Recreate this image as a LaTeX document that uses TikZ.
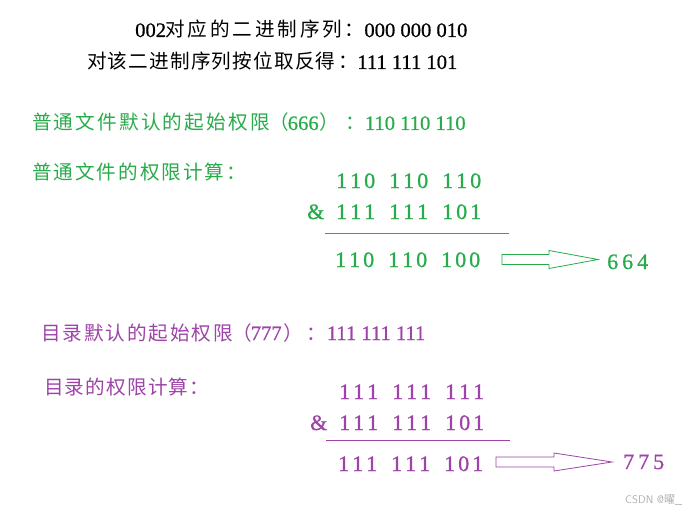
\documentclass[tikz,border=0pt]{standalone}
\usepackage{fontspec}
\setmainfont{Liberation Serif}
\newfontfamily\cjk{Noto Sans CJK SC}
\usetikzlibrary{calc}
\definecolor{fgreen}{RGB}{40,172,75}
\definecolor{dpurple}{RGB}{158,68,168}
\definecolor{wmgray}{RGB}{175,175,175}
\newcommand\fatarrow[4]{% start, tip, headbase x-offset from start, color
  \draw[#4, line width=0.8pt, line join=miter]
    ($(#1)+(0,-5)$) -- ($(#1)+(#3,-5)$) -- ($(#1)+(#3,-9)$) -- (#2)
    -- ($(#1)+(#3,9)$) -- ($(#1)+(#3,5)$) -- ($(#1)+(0,5)$) -- cycle;}
\newcommand\trip[3]{#1\kern3pt#2\kern3pt#3}
\newcommand\bits[3]{\trip#1\kern14pt\trip#2\kern14pt\trip#3}
% letter-spaced CJK run: \spc{<gap>}<chars>\relax
\newdimen\lsp
\def\spcloop#1{\ifx#1\relax\else#1\kern\lsp\expandafter\spcloop\fi}
\newcommand\spc[1]{\lsp=#1pt\relax\spcloop}
% font switches
\newcommand\zh{\cjk\fontsize{19.6}{24}\selectfont}
\newcommand\hd{\fontsize{20.6}{24}\selectfont}
\newcommand\cd{\fontsize{20.6}{24}\selectfont}
\begin{document}
\begin{tikzpicture}[x=1pt,y=-1pt,
  txt/.style={anchor=base west, inner sep=0pt, font=\addfontfeature{FakeBold=0.7}},
  num/.style={anchor=base west, inner sep=0pt, font=\fontsize{22}{26}\selectfont\addfontfeature{FakeBold=0.9}},
  rule/.style={line width=0.9pt}]
\useasboundingbox[fill=white] (0,0) rectangle (700,513);

% black header
\node[txt] (t1) at (135,37) {\hd 002\kern-0.5pt{\zh\spc{2.8}对应的二进制序列\relax ：}000 000 010};
\node[txt] (t2) at (87,69) {{\zh\spc{1.2}对该二进制序列按位取反得\relax\kern2pt ：}\kern-1pt\hd 111 111 101};

% green: regular file
\node[txt, text=fgreen] (g1) at (32,130) {{\zh\spc{2.2}普通文件默认的起始权限\relax\kern-2.8pt （}\kern-1pt\cd 666\kern1pt{\zh ）\kern6pt ：}\cd 110 110 110};
\node[txt, text=fgreen] (g2) at (32,179) {\zh\spc{2}普通文件的权限计算\relax ：};
\node[num, text=fgreen] (g3) at (336,188) {\bits{110}{110}{110}};
\node[num, text=fgreen] (g4amp) at (307,219) {\&};
\node[num, text=fgreen] (g4) at (336,219) {\bits{111}{111}{101}};
\coordinate (g5a) at (325,233);
\coordinate (g5b) at (509,233);
\draw[rule, fgreen] (g5a) -- (g5b);
\node[num, text=fgreen] (g6) at (335,267) {\bits{110}{110}{100}};
\node[num, text=fgreen] (g7) at (607,269) {6\kern4pt6\kern4pt4};
\coordinate (ga1) at (502,259.5);
\coordinate (ga2) at (598,259.5);
\fatarrow{ga1}{ga2}{47}{fgreen}

% purple: directory
\node[txt, text=dpurple] (p1) at (41,340) {{\zh\spc{1.9}目录默认的起始权限\relax\kern-2.5pt （}\kern-1pt\cd 777\kern2pt{\zh ）\kern3pt ：}\kern1pt\cd 111 111 111};
\node[txt, text=dpurple] (p2) at (44,394) {\zh\spc{1.2}目录的权限计算\relax ：};
\node[num, text=dpurple] (p3) at (339,399) {\bits{111}{111}{111}};
\node[num, text=dpurple] (p4amp) at (310,430) {\&};
\node[num, text=dpurple] (p4) at (339,430) {\bits{111}{111}{101}};
\coordinate (p5a) at (326,440);
\coordinate (p5b) at (510,440);
\draw[rule, dpurple] (p5a) -- (p5b);
\node[num, text=dpurple] (p6) at (338,471) {\bits{111}{111}{101}};
\node[num, text=dpurple] (p7) at (623,469) {7\kern4pt7\kern4pt5};
\coordinate (pa1) at (496,462);
\coordinate (pa2) at (612,462);
\fatarrow{pa1}{pa2}{58}{dpurple}

% watermark
\node[anchor=base west, inner sep=0pt, text=wmgray, font=\sffamily\fontsize{11}{12}\selectfont] (wm) at (625,503) {CSDN @{\cjk 曜}\_};
\end{tikzpicture}
\end{document}
